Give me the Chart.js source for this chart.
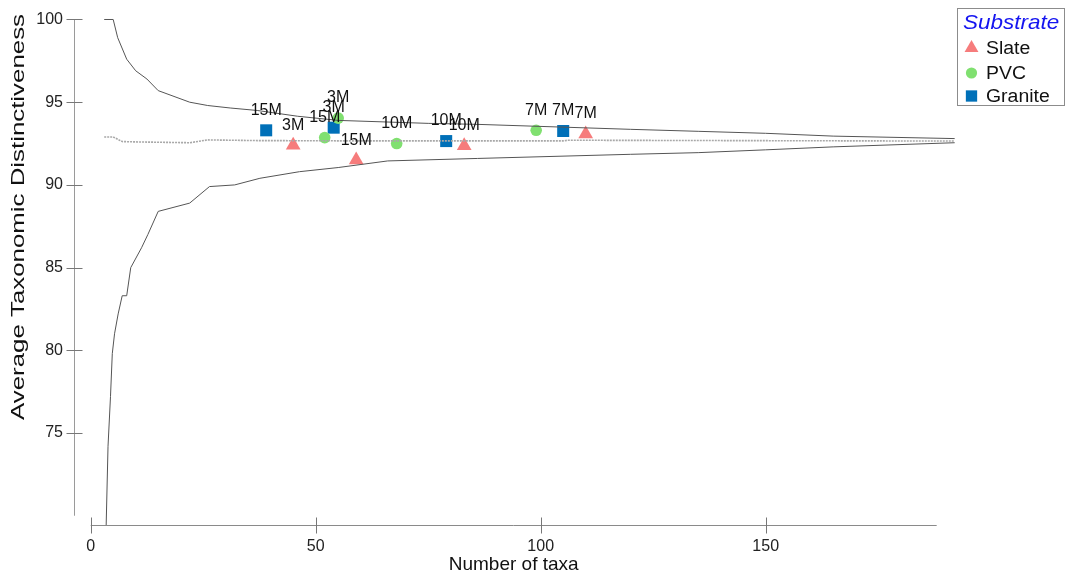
<!DOCTYPE html>
<html>
<head>
<meta charset="utf-8">
<script src="https://cdn.jsdelivr.net/npm/chart.js@4.4.0/dist/chart.umd.min.js"></script>
<style>
  html, body { margin: 0; padding: 0; background: #ffffff; }
  #wrap { width: 1069px; height: 577px; position: relative; }
</style>
</head>
<body>
<div id="wrap"><canvas id="c" width="1069" height="577"></canvas></div>
<script>
// Tick values
const xTicks = [0, 50, 100, 150];
const yTicks = [75, 80, 85, 90, 95, 100];

// 95% probability funnel: upper limit
const upperTaxa = [3, 5, 6, 8, 10, 12.5, 15, 22, 26, 31, 37, 46, 55, 75, 86, 120, 135, 150, 165, 192];
const upperDelta = [100, 100, 98.9, 97.6, 96.9, 96.4, 95.7, 95.0, 94.8, 94.65, 94.5, 94.15, 93.9, 93.72, 93.66, 93.36, 93.24, 93.12, 92.95, 92.8];

// 95% probability funnel: lower limit
const lowerTaxa = [3.4, 3.85, 4.4, 4.8, 5.3, 6.1, 7, 8, 8.9, 11.3, 12.7, 15, 22, 26.4, 32, 37.6, 46.4, 55, 66, 86, 120, 135, 150, 165, 192];
const lowerDelta = [69.0, 74.2, 77.2, 79.8, 81.0, 82.2, 83.3, 83.3, 85.0, 86.2, 87.0, 88.4, 88.9, 89.9, 90.0, 90.4, 90.8, 91.05, 91.45, 91.6, 91.85, 91.95, 92.12, 92.3, 92.55];

// Expected (mean) taxonomic distinctiveness
const meanTaxa = [3, 5, 7, 10, 22, 26, 37, 60, 105, 106, 192];
const meanDelta = [92.9, 92.9, 92.62, 92.6, 92.55, 92.72, 92.68, 92.66, 92.66, 92.7, 92.65];

// Samples by substrate
const slateTaxa = [45, 59, 83, 110];
const slateDelta = [92.4, 91.5, 92.36, 93.08];
const slateLabels = ['3M', '15M', '10M', '7M'];

const pvcTaxa = [52, 55, 68, 99];
const pvcDelta = [92.86, 94.04, 92.5, 93.3];
const pvcLabels = ['15M', '3M', '10M', '7M'];

const graniteTaxa = [39, 54, 79, 105];
const graniteDelta = [93.3, 93.46, 92.65, 93.26];
const graniteLabels = ['15M', '3M', '10M', '7M'];

const SLATE = '#f67c7c';
const PVC = '#80e070';
const GRANITE = '#0070b8';
const FONT = '"Liberation Sans", Arial, sans-serif';

const pts = (xs, ys) => xs.map((x, i) => ({ x: x, y: ys[i] }));

const lineSet = (label, xs, ys, color, width, dash) => ({
  label: label,
  data: pts(xs, ys),
  showLine: true,
  borderColor: color,
  borderWidth: width,
  borderDash: dash || [],
  pointRadius: 0,
  pointHoverRadius: 0,
  tension: 0,
  fill: false
});

const markSet = (label, xs, ys, labels, color, style, radius) => ({
  label: label,
  data: pts(xs, ys),
  sampleLabels: labels,
  showLine: false,
  pointStyle: style,
  pointRadius: radius,
  pointHoverRadius: radius,
  backgroundColor: color,
  borderColor: color,
  borderWidth: 0
});

// Text stretched along its own direction
function stretchedText(ctx, text, x, y, sx) {
  ctx.save();
  ctx.translate(x, y);
  ctx.scale(sx, 1);
  ctx.fillText(text, 0, 0);
  ctx.restore();
}

// Axis lines and tick marks drawn detached, PRIMER style
const axesPlugin = {
  id: 'axes',
  afterDraw(chart) {
    const { ctx, chartArea, scales } = chart;
    const xs = scales.x, ys = scales.y;
    ctx.save();
    ctx.lineWidth = 1;
    // y axis
    const ax = chartArea.left + 0.5;
    ctx.strokeStyle = '#9a9a9a';
    ctx.beginPath();
    ctx.moveTo(ax, ys.getPixelForValue(100));
    ctx.lineTo(ax, ys.getPixelForValue(70));
    ctx.stroke();
    ctx.strokeStyle = '#777';
    yTicks.forEach(v => {
      const py = Math.round(ys.getPixelForValue(v)) + 0.5;
      ctx.beginPath();
      ctx.moveTo(ax - 8, py);
      ctx.lineTo(ax + 8, py);
      ctx.stroke();
    });
    // x axis
    const ay = chartArea.bottom + 0.5;
    ctx.strokeStyle = '#8a8a8a';
    ctx.beginPath();
    ctx.moveTo(xs.getPixelForValue(0), ay);
    ctx.lineTo(xs.getPixelForValue(188), ay);
    ctx.stroke();
    ctx.strokeStyle = '#777';
    xTicks.forEach(v => {
      const px = Math.round(xs.getPixelForValue(v)) + 0.5;
      ctx.beginPath();
      ctx.moveTo(px, ay - 8);
      ctx.lineTo(px, ay + 8);
      ctx.stroke();
    });
    // axis titles
    ctx.fillStyle = '#111';
    ctx.font = '19px ' + FONT;
    ctx.textAlign = 'center';
    ctx.textBaseline = 'middle';
    ctx.fillText('Number of taxa', (xs.getPixelForValue(0) + xs.getPixelForValue(188)) / 2, 565);
    ctx.translate(19, 217);
    ctx.rotate(-Math.PI / 2);
    stretchedText(ctx, 'Average Taxonomic Distinctiveness', 0, 0, 1.36);
    ctx.restore();
  }
};

// Sample labels above each marker
const labelPlugin = {
  id: 'sampleLabels',
  afterDatasetsDraw(chart) {
    const { ctx } = chart;
    ctx.save();
    ctx.font = '16px ' + FONT;
    ctx.fillStyle = '#111';
    ctx.textAlign = 'center';
    ctx.textBaseline = 'middle';
    chart.data.datasets.forEach((ds, i) => {
      if (!ds.sampleLabels) return;
      chart.getDatasetMeta(i).data.forEach((el, j) => {
        ctx.fillText(ds.sampleLabels[j], el.x, el.y - 20);
      });
    });
    ctx.restore();
  }
};

// Boxed legend at top right
const legendPlugin = {
  id: 'boxLegend',
  afterDraw(chart) {
    const { ctx } = chart;
    ctx.save();
    ctx.strokeStyle = '#8c8c8c';
    ctx.lineWidth = 1;
    ctx.strokeRect(957.5, 8.5, 107, 97);
    ctx.fillStyle = '#1515f0';
    ctx.font = 'italic 21px ' + FONT;
    ctx.textAlign = 'left';
    ctx.textBaseline = 'middle';
    stretchedText(ctx, 'Substrate', 963, 23, 1.07);
    const items = [
      ['Slate', SLATE, 'triangle', 8, 48],
      ['PVC', PVC, 'circle', 5.6, 73],
      ['Granite', GRANITE, 'rect', 8, 96]
    ];
    ctx.font = '18px ' + FONT;
    items.forEach(([text, color, style, r, y]) => {
      ctx.fillStyle = color;
      ctx.strokeStyle = color;
      Chart.helpers.drawPoint(ctx, { pointStyle: style, radius: r, borderWidth: 0 }, 971.5, y);
      ctx.fillStyle = '#111';
      stretchedText(ctx, text, 986, y + 1, 1.08);
    });
    ctx.restore();
  }
};

// Fixed scale boxes so the plot area lands exactly where the axes go
const noPad = s => { s.paddingTop = 0; s.paddingBottom = 0; s.paddingLeft = 0; s.paddingRight = 0; };

new Chart(document.getElementById('c').getContext('2d'), {
  type: 'scatter',
  data: {
    datasets: [
      lineSet('Upper limit', upperTaxa, upperDelta, '#555555', 1),
      lineSet('Lower limit', lowerTaxa, lowerDelta, '#555555', 1),
      lineSet('Mean', meanTaxa, meanDelta, '#a8a8a8', 1.6, [2, 1]),
      markSet('Slate', slateTaxa, slateDelta, slateLabels, SLATE, 'triangle', 8.5),
      markSet('PVC', pvcTaxa, pvcDelta, pvcLabels, PVC, 'circle', 5.8),
      markSet('Granite', graniteTaxa, graniteDelta, graniteLabels, GRANITE, 'rect', 8.5)
    ]
  },
  options: {
    responsive: false,
    animation: false,
    events: [],
    layout: { padding: { top: 10, right: 114, left: 0, bottom: 0 } },
    plugins: { legend: { display: false }, tooltip: { enabled: false } },
    scales: {
      x: {
        type: 'linear',
        min: -3.71,
        max: 192.07,
        afterFit(s) { s.height = 52; noPad(s); },
        afterBuildTicks(s) { s.ticks = xTicks.map(v => ({ value: v })); },
        grid: { display: false, drawTicks: false },
        border: { display: false },
        ticks: { padding: 12, color: '#222', font: { family: FONT, size: 16 } }
      },
      y: {
        type: 'linear',
        min: 69.44,
        max: 100.574,
        afterFit(s) { s.width = 74; noPad(s); },
        afterBuildTicks(s) { s.ticks = yTicks.map(v => ({ value: v })); },
        grid: { display: false, drawTicks: false },
        border: { display: false },
        ticks: { padding: 11, color: '#222', font: { family: FONT, size: 16 } }
      }
    }
  },
  plugins: [axesPlugin, labelPlugin, legendPlugin]
});
</script>
</body>
</html>
